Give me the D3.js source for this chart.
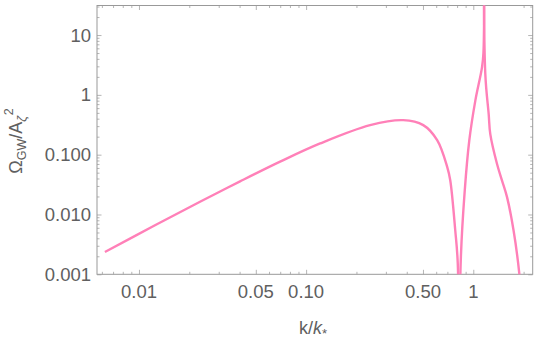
<!DOCTYPE html>
<html>
<head>
<meta charset="utf-8">
<script src="https://cdn.jsdelivr.net/npm/d3@7"></script>
<style>
    body { margin: 0; background: #fff; }
    svg { display: block; }
    text { font-family: "Liberation Sans", Arial, sans-serif; fill: #606060; }
</style>
</head>
<body>
<svg id="chart" width="540" height="342"></svg>
<script>

// curve: k/k*, Omega_GW / A^2
const kValues = [0.006255, 0.01247, 0.02319, 0.04025, 0.06988, 0.1213, 0.2415, 0.381, 0.502, 0.608,
    0.698, 0.728, 0.780, 0.807, 0.820, 0.843, 0.889, 0.946, 1.028, 1.127, 1.150, 1.1547,
    1.180, 1.236, 1.264, 1.387, 1.486, 1.592, 1.742, 1.885, 1.95];
const omegaValues = [0.002362, 0.006607, 0.01634, 0.03573, 0.07632, 0.154, 0.312, 0.3776, 0.312, 0.175,
    0.0625, 0.0374, 0.00545, 0.00158, 0.00001, 0.00194, 0.0251, 0.171, 0.794, 2.86, 5.0, 10000,
    2.24, 0.482, 0.221, 0.070, 0.0369, 0.0195, 0.0054, 0.00103, 0.0003];
// indices where the curve has a cusp (zero and resonance)
const cusps = [14, 21];

// ticks
const xMajor = [0.01, 0.05, 0.1, 0.5, 1];
const xLabels = ["0.01", "0.05", "0.10", "0.50", "1"];
const yMajor = [0.001, 0.01, 0.1, 1, 10];
const yLabels = ["0.001", "0.010", "0.100", "1", "10"];

const svg = d3.select('#chart');
const margin = {left: 97, right: 7.3, top: 5.5, bottom: 67.7};
const width = 540 - margin.left - margin.right;
const height = 342 - margin.top - margin.bottom;

const x = d3.scaleLog().domain([0.00561, 2.267]).range([0, width]);
const y = d3.scaleLog().domain([0.001, 31.2]).range([height, 0]);

// minor ticks at 1..9 times each decade, inside the domain
function minorTicks(scale, major) {
    let out = [];
    let [lo, hi] = scale.domain();
    for (let e = -4; e <= 2; e++) {
        for (let m = 1; m <= 9; m++) {
            let v = m * Math.pow(10, e);
            if (v >= lo && v <= hi && !major.some((d) => Math.abs(d / v - 1) < 1e-6))
                out.push(v);
        }
    }
    return out;
}

const xMinor = minorTicks(x, xMajor);
const yMinor = minorTicks(y, yMajor);

const g = svg.append('g').attr('transform', `translate(${margin.left},${margin.top})`);

// clip for the curve
svg.append('defs').append('clipPath').attr('id', 'plotClip')
    .append('rect').attr('width', width).attr('height', height);

/**
 * draw ticks for one side of the frame
 */
function drawTicks(axisFn, scale, values, len, transform) {
    g.append('g')
        .attr('transform', transform)
        .call(axisFn(scale).tickValues(values).tickSize(-len).tickFormat(''))
        .call((s) => s.select('.domain').remove())
        .call((s) => s.selectAll('line').attr('stroke', '#b5b5b5').attr('stroke-width', 1));
}

drawTicks(d3.axisBottom, x, xMajor, 4.5, `translate(0,${height})`);
drawTicks(d3.axisBottom, x, xMinor, 2.5, `translate(0,${height})`);
drawTicks(d3.axisTop, x, xMajor, 4.5, 'translate(0,0)');
drawTicks(d3.axisTop, x, xMinor, 2.5, 'translate(0,0)');
drawTicks(d3.axisLeft, y, yMajor, 4.5, 'translate(0,0)');
drawTicks(d3.axisLeft, y, yMinor, 2.5, 'translate(0,0)');
drawTicks(d3.axisRight, y, yMajor, 4.5, `translate(${width},0)`);
drawTicks(d3.axisRight, y, yMinor, 2.5, `translate(${width},0)`);

// frame
g.append('rect')
    .attr('width', width).attr('height', height)
    .attr('fill', 'none').attr('stroke', '#999').attr('stroke-width', 1);

// tick labels
g.selectAll('.xlab')
    .data(xMajor)
    .enter()
    .append('text')
    .classed('xlab', true)
    .attr('x', (d) => x(d))
    .attr('y', height + 24)
    .attr('text-anchor', 'middle')
    .style('font-size', '18.5px')
    .text((d, i) => xLabels[i]);

g.selectAll('.ylab')
    .data(yMajor)
    .enter()
    .append('text')
    .classed('ylab', true)
    .attr('x', -6)
    .attr('y', (d) => y(d) + 6.5)
    .attr('text-anchor', 'end')
    .style('font-size', '18.5px')
    .text((d, i) => yLabels[i]);

// curve, split at the cusps so each smooth piece is interpolated on its own
const pts = kValues.map((k, i) => [k, omegaValues[i]]);
const bounds = [0, ...cusps, pts.length - 1];
const pieces = [];
for (let i = 0; i < bounds.length - 1; i++)
    pieces.push(pts.slice(bounds[i], bounds[i + 1] + 1));

const line = d3.line()
    .x((d) => x(d[0]))
    .y((d) => y(d[1]))
    .curve(d3.curveCatmullRom.alpha(0.5));

g.append('g')
    .attr('clip-path', 'url(#plotClip)')
    .selectAll('path')
    .data(pieces)
    .enter()
    .append('path')
    .attr('fill', 'none')
    .attr('stroke', '#ff80b8')
    .attr('stroke-width', 2.4)
    .attr('stroke-linejoin', 'round')
    .attr('d', line);

// axis titles
const xt = svg.append('text')
    .attr('x', 313)
    .attr('y', 334)
    .attr('text-anchor', 'middle')
    .style('font-size', '18px');
xt.append('tspan').text('k/');
xt.append('tspan').style('font-style', 'italic').text('k');
xt.append('tspan').attr('dy', 4).style('font-size', '13px').text('*');

const yt = svg.append('text')
    .attr('transform', 'translate(22,141) rotate(-90)')
    .attr('text-anchor', 'middle')
    .style('font-size', '18px');
yt.append('tspan').text('Ω');
yt.append('tspan').attr('dy', 4).style('font-size', '12.5px').text('GW');
yt.append('tspan').attr('dy', -4).text('/A');
yt.append('tspan').attr('dy', 4).style('font-size', '12.5px').style('font-style', 'italic').text('ζ');
yt.append('tspan').attr('dy', -13).attr('dx', 0.5).style('font-size', '12.5px').text('2');

</script>
</body>
</html>
